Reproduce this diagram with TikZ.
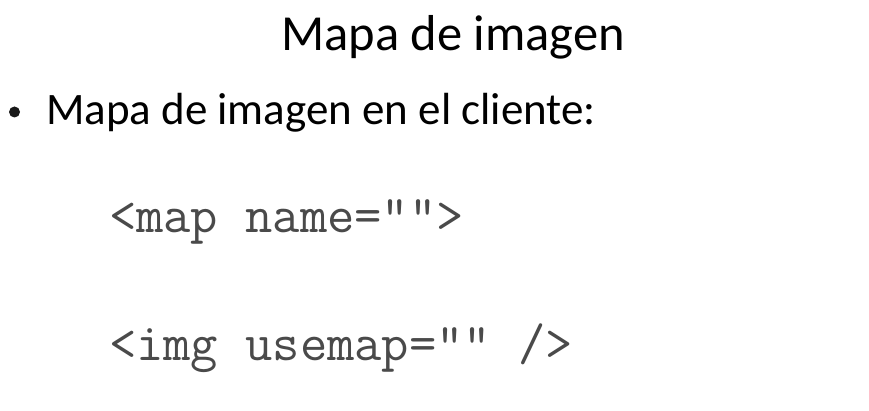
\documentclass[tikz,border=0pt]{standalone}
\usepackage{fontspec}
\setmainfont{Carlito}
\definecolor{codegray}{HTML}{4A4A4A}
\tikzset{
  txt/.style={inner sep=0pt, outer sep=0pt, anchor=base west},
  codetxt/.style={txt, text=codegray, font=\ttfamily\fontsize{53}{58}\selectfont}
}
\begin{document}
\begin{tikzpicture}[x=1pt,y=-1pt]
\useasboundingbox[fill=white] (0,0) rectangle (869,411);
\node[inner sep=0pt, anchor=base, font=\fontsize{50.5}{58}\selectfont] (title) at (453,51) {Mapa de imagen};
\node[circle, fill=black!90, inner sep=0pt, minimum size=11pt] (bul) at (14.5,112) {};
\node[txt, font=\fontsize{45}{52}\selectfont] (item) at (46,125) {Mapa de imagen en el cliente:};
\node[codetxt] (c1) at (109,233) {<map name="">};
\node[codetxt] (c2) at (109,360) {<img usemap="" />};
\end{tikzpicture}
\end{document}
